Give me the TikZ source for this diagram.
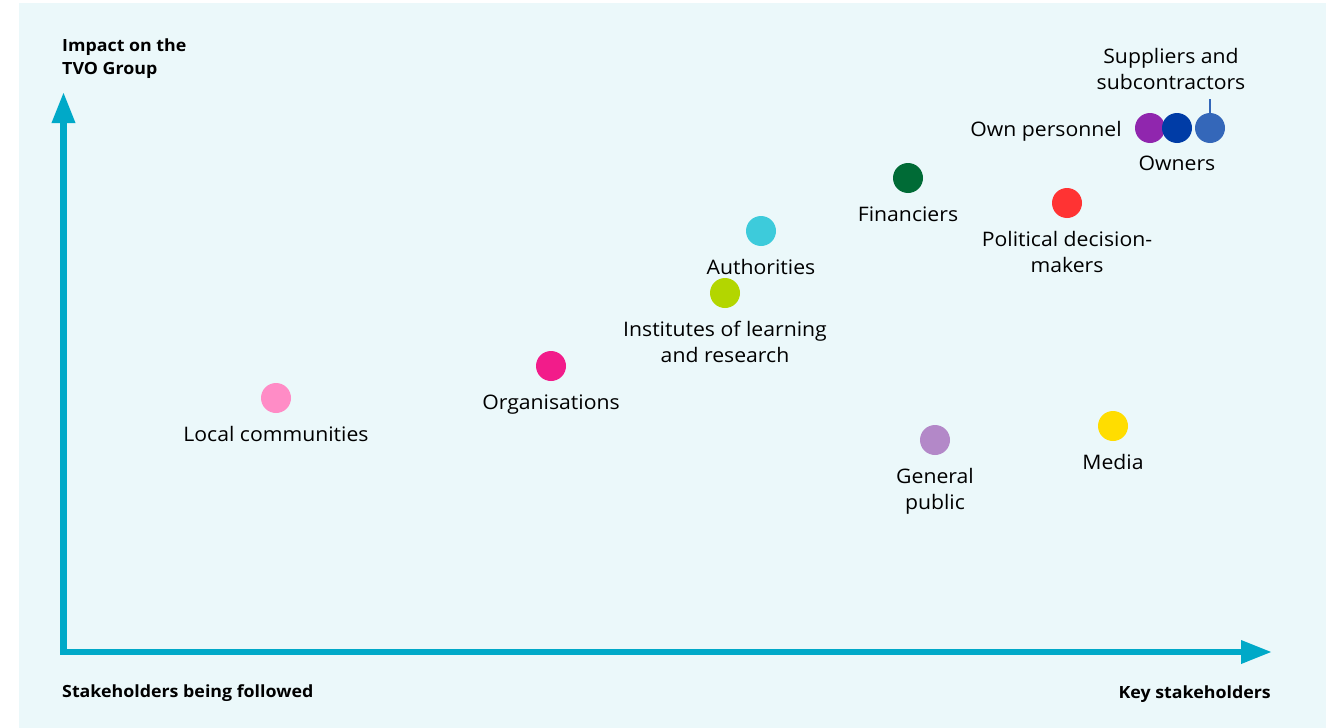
\documentclass[tikz,border=0pt]{standalone}
\usepackage{fontspec}
\setmainfont{Open Sans}[FakeStretch=1.06]
\usetikzlibrary{arrows.meta,positioning}
\definecolor{bgblue}{HTML}{EBF8FA}
\definecolor{axisblue}{HTML}{00A9C8}
\definecolor{cpurple}{HTML}{9026AE}
\definecolor{cnavy}{HTML}{003CA6}
\definecolor{csteel}{HTML}{3467B9}
\definecolor{cgreen}{HTML}{006B36}
\definecolor{cred}{HTML}{FF3333}
\definecolor{ccyan}{HTML}{3DCBDB}
\definecolor{clime}{HTML}{B3D600}
\definecolor{cmagenta}{HTML}{F21C8A}
\definecolor{cpink}{HTML}{FF8CC6}
\definecolor{clilac}{HTML}{B388C8}
\definecolor{cyellow}{HTML}{FFDD00}

\begin{document}
\begin{tikzpicture}[x=1pt,y=-1pt,
        every node/.style={font=\fontsize{20}{26}\selectfont,text=black},
        every label/.style={inner sep=0pt,align=center},
        label distance=13pt,
        dot/.style={circle,minimum size=30pt,inner sep=0pt},
        axis/.style={draw=axisblue,line width=6.5pt,line join=miter,
            {Triangle[length=31pt,width=22pt]}-{Triangle[length=31pt,width=22pt]}},
        axislabel/.style={font=\bfseries\fontsize{16.8}{23}\selectfont,align=left,inner sep=0pt}
        ]

        % canvas
        \useasboundingbox (0,0) rectangle (1326,728);
        \fill[bgblue] (19,3) rectangle (1326,728);

        % the axes
        \coordinate (ytop) at (63.5,92);
        \coordinate (xend) at (1272,652);
        \draw[axis] (ytop) |- (xend);

        \node[axislabel,anchor=west] (ylab) at (62,58.5) {Impact on the\\TVO Group};
        \node[axislabel,anchor=west] (xlow) at (62,693) {Stakeholders being followed};
        \node[axislabel,anchor=east] (xhigh) at (1271,694) {Key stakeholders};

        % the stakeholders
        \node[dot,fill=cpink] (local) at (276,398) [label=below:Local communities] {};
        \node[dot,fill=cmagenta] (orgs) at (551,366) [label=below:Organisations] {};
        \node[dot,fill=clime] (inst) at (725,293) [label=below:{Institutes of learning\\and research}] {};
        \node[dot,fill=ccyan] (auth) at (761,231) [label=below:Authorities] {};
        \node[dot,fill=cgreen] (fin) at (908,178) [label=below:Financiers] {};
        \node[dot,fill=cred] (pol) at (1067,203) [label=below:{Political decision-\\makers}] {};
        \node[dot,fill=clilac] (public) at (935,440) [label=below:{General\\public}] {};
        \node[dot,fill=cyellow] (media) at (1113,426) [label=below:Media] {};

        % the key group
        \node[dot,fill=cpurple] (pers) at (1150,128) [label={[yshift=-3pt]left:Own personnel}] {};
        \node[dot,fill=cnavy] (owners) at (1177,128) [label=below:Owners] {};
        \node[dot,fill=csteel] (supp) at (1210,128) {};
        \node[align=center,inner sep=0pt] (supplab) at (1171,69) {Suppliers and\\subcontractors};
        \coordinate (supptop) at (1210,99);
        \draw[csteel,line width=1.2pt] (supp.north) -- (supptop);
\end{tikzpicture}
\end{document}
